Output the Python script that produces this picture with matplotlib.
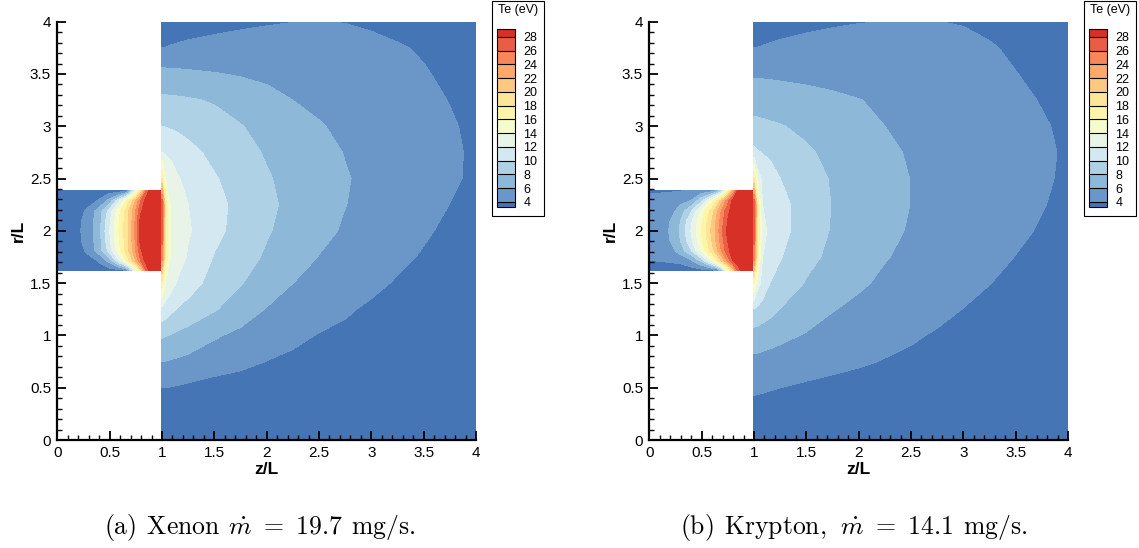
import numpy as np
import matplotlib
matplotlib.use("Agg")
import matplotlib.pyplot as plt
from matplotlib.ticker import MultipleLocator, FormatStrFormatter
from matplotlib.patches import Rectangle

plt.rcParams['font.family'] = ['Liberation Sans', 'DejaVu Sans']
plt.rcParams['mathtext.fontset'] = 'cm'

# contour levels of Te (eV) and the flood colours (below 4 ... above 28)
te_levels = [4, 6, 8, 10, 12, 14, 16, 18, 20, 22, 24, 26, 28]
band_colors = ['#4575b4', '#6a97c8', '#8db8d8', '#afd1e6', '#d3e8f1', '#e8f4e8',
               '#f6fbcc', '#fff5a6', '#fee597', '#fdc881', '#fca96b', '#f7865a',
               '#e85d43', '#d73027']

# channel grid (z/L, r/L)
ch_z = [0, 0.1, 0.2, 0.3, 0.4, 0.5, 0.6, 0.65, 0.7, 0.75, 0.8, 0.85, 0.9, 1.0]
ch_r = [1.62, 1.715, 1.81, 1.905, 2.0, 2.095, 2.19, 2.285, 2.38]

# plume grid (z/L, r/L)
pl_z = [1.0, 1.03, 1.08, 1.15, 1.25, 1.5, 1.75, 2.0, 2.25, 2.5, 2.75, 3.0, 3.25, 3.5, 3.75, 4.0]
pl_r = [0, 0.25, 0.5, 0.75, 1.0, 1.25, 1.5, 1.75, 2.0, 2.25, 2.5, 2.75, 3.0, 3.25, 3.5, 3.75, 4.0]

# Xenon, Te in the channel (rows = ch_r)
xe_channel_te = [
    [3.0, 3.0, 3.0, 3.0, 3.0, 3.0, 3.0, 3.2, 7.5, 13.0, 19.0, 26.0, 30.0, 30.5],
    [3.0, 3.0, 3.1, 3.0, 4.22, 6.73, 12.0, 15.33, 18.67, 22.0, 26.0, 29.0, 30.0, 30.5],
    [3.0, 3.1, 3.0, 4.6, 6.86, 10.75, 15.75, 18.25, 20.86, 24.0, 27.6, 29.5, 30.0, 30.5],
    [3.0, 3.2, 3.5, 5.0, 7.0, 11.6, 16.26, 18.44, 20.95, 24.36, 29.0, 29.7, 30.0, 30.5],
    [3.0, 3.3, 3.7, 4.8, 7.5, 11.85, 16.45, 18.6, 21.15, 24.7, 29.2, 29.8, 30.0, 30.5],
    [3.0, 3.2, 3.5, 5.0, 7.0, 11.6, 16.26, 18.44, 20.95, 24.36, 29.0, 29.7, 30.0, 30.5],
    [3.0, 3.1, 3.0, 4.6, 6.86, 10.75, 15.75, 18.25, 20.86, 24.0, 27.6, 29.5, 30.0, 30.5],
    [3.0, 3.0, 3.1, 3.0, 4.22, 6.73, 12.0, 15.33, 18.67, 22.0, 26.0, 29.0, 30.0, 30.5],
    [3.0, 3.0, 3.0, 3.0, 3.0, 3.0, 3.0, 3.2, 7.5, 13.0, 19.0, 26.0, 30.0, 30.5],
]

# Xenon, Te in the plume (rows = pl_r)
xe_plume_te = [
    [3.3, 3.3, 3.3, 3.3, 3.3, 3.25, 3.2, 3.15, 3.1, 3.1, 3.05, 3.0, 3.0, 2.95, 2.9, 2.85],
    [3.6, 3.6, 3.58, 3.55, 3.5, 3.4, 3.3, 3.2, 3.15, 3.1, 3.05, 3.0, 3.0, 2.95, 2.9, 2.85],
    [4.0, 3.98, 3.92, 3.82, 3.63, 3.23, 3.1, 3.05, 3.0, 3.0, 3.0, 3.0, 2.95, 2.9, 2.9, 2.85],
    [6.0, 5.94, 5.84, 5.69, 5.49, 4.98, 4.47, 3.96, 3.6, 3.45, 3.4, 3.35, 3.3, 3.25, 3.2, 3.1],
    [8.24, 8.1, 7.88, 7.6, 7.2, 6.2, 5.56, 5.0, 4.44, 3.9, 3.7, 3.55, 3.45, 3.35, 3.25, 3.15],
    [11.43, 11.07, 10.48, 9.85, 9.37, 8.15, 6.95, 5.89, 5.32, 4.75, 4.18, 3.75, 3.55, 3.4, 3.3, 3.2],
    [17.0, 14.0, 12.89, 11.73, 10.82, 9.26, 8.09, 7.04, 6.0, 5.45, 4.9, 4.35, 3.85, 3.6, 3.45, 3.3],
    [25.0, 17.5, 13.75, 12.88, 11.76, 9.87, 8.78, 7.74, 6.81, 5.94, 5.4, 4.87, 4.34, 3.85, 3.6, 3.4],
    [27.0, 18.0, 14.0, 13.26, 12.2, 10.52, 9.26, 8.17, 7.31, 6.49, 5.79, 5.26, 4.72, 4.19, 3.7, 3.45],
    [28.0, 18.0, 13.79, 13.05, 12.0, 10.61, 9.42, 8.38, 7.52, 6.78, 6.03, 5.51, 5.0, 4.49, 3.98, 3.6],
    [18.0, 13.86, 13.14, 12.14, 11.51, 10.16, 9.14, 8.16, 7.44, 6.77, 6.11, 5.6, 5.12, 4.65, 4.17, 3.8],
    [12.0, 11.83, 11.54, 11.14, 10.57, 9.48, 8.62, 7.82, 7.18, 6.54, 5.93, 5.5, 5.07, 4.64, 4.21, 3.8],
    [10.0, 9.92, 9.79, 9.62, 9.36, 8.72, 8.08, 7.42, 6.76, 6.11, 5.67, 5.29, 4.9, 4.51, 4.12, 3.75],
    [8.39, 8.36, 8.32, 8.26, 8.17, 7.83, 7.21, 6.59, 5.99, 5.65, 5.31, 4.97, 4.64, 4.3, 3.96, 3.7],
    [6.6, 6.57, 6.52, 6.45, 6.35, 6.09, 5.84, 5.59, 5.33, 5.08, 4.83, 4.58, 4.32, 4.07, 3.82, 3.6],
    [3.98, 4.0, 4.05, 4.1, 4.17, 4.3, 4.42, 4.5, 4.52, 4.48, 4.38, 4.25, 4.08, 3.9, 3.7, 3.55],
    [3.5, 3.5, 3.52, 3.55, 3.6, 3.7, 3.8, 3.9, 3.98, 4.02, 3.97, 3.85, 3.7, 3.55, 3.4, 3.3],
]

# Krypton, Te in the channel (rows = ch_r)
kr_channel_te = [
    [3.0, 3.0, 3.0, 3.0, 3.0, 3.0, 3.0, 3.5, 8.0, 14.0, 20.0, 26.5, 30.0, 30.5],
    [3.95, 4.05, 4.2, 4.4, 5.6, 8.5, 14.0, 17.3, 20.7, 24.4, 28.0, 29.4, 30.0, 30.5],
    [4.8, 5.0, 5.1, 6.9, 9.7, 14.4, 19.0, 21.7, 24.6, 27.4, 29.0, 29.8, 30.0, 30.5],
    [5.0, 5.2, 6.0, 8.0, 11.5, 15.6, 20.0, 22.6, 25.4, 28.0, 29.3, 30.0, 30.0, 30.5],
    [5.0, 5.3, 6.1, 8.3, 12.0, 16.0, 20.5, 23.0, 26.0, 28.5, 29.5, 30.0, 30.0, 30.5],
    [5.0, 5.2, 6.0, 8.0, 11.5, 15.6, 20.0, 22.6, 25.4, 28.0, 29.3, 30.0, 30.0, 30.5],
    [4.8, 5.0, 5.1, 6.9, 9.7, 14.4, 19.0, 21.7, 24.6, 27.4, 29.0, 29.8, 30.0, 30.5],
    [4.5, 4.7, 5.0, 5.4, 6.1, 9.6, 15.0, 18.3, 21.7, 25.2, 28.6, 29.6, 30.0, 30.5],
    [3.8, 3.8, 3.85, 3.95, 4.3, 4.7, 5.2, 6.8, 10.5, 16.0, 22.5, 29.0, 30.0, 30.5],
]

# Krypton, Te in the plume (rows = pl_r)
kr_plume_te = [
    [3.3, 3.3, 3.3, 3.3, 3.3, 3.25, 3.2, 3.15, 3.1, 3.1, 3.05, 3.0, 3.0, 2.95, 2.9, 2.85],
    [3.6, 3.6, 3.58, 3.55, 3.5, 3.4, 3.3, 3.2, 3.15, 3.1, 3.05, 3.0, 3.0, 2.95, 2.9, 2.85],
    [4.16, 4.14, 4.11, 4.06, 4.0, 3.7, 3.45, 3.3, 3.2, 3.15, 3.1, 3.05, 3.0, 3.0, 2.95, 2.9],
    [5.51, 5.47, 5.41, 5.32, 5.19, 4.86, 4.54, 4.22, 3.9, 3.7, 3.55, 3.45, 3.4, 3.3, 3.2, 3.1],
    [7.14, 7.05, 6.91, 6.71, 6.43, 5.83, 5.42, 5.01, 4.6, 4.18, 3.85, 3.65, 3.5, 3.4, 3.3, 3.2],
    [9.86, 9.62, 9.21, 8.65, 7.93, 7.0, 6.07, 5.62, 5.21, 4.79, 4.38, 3.97, 3.7, 3.5, 3.4, 3.3],
    [16.0, 13.0, 11.27, 10.0, 9.33, 7.84, 7.03, 6.23, 5.7, 5.28, 4.86, 4.44, 4.02, 3.7, 3.5, 3.35],
    [25.0, 17.5, 12.0, 11.22, 10.11, 8.55, 7.54, 6.81, 6.09, 5.63, 5.22, 4.8, 4.38, 3.97, 3.7, 3.45],
    [27.0, 18.0, 12.7, 11.48, 10.61, 9.03, 7.83, 7.13, 6.42, 5.84, 5.45, 5.06, 4.66, 4.27, 3.87, 3.55],
    [28.0, 18.0, 12.0, 11.42, 10.58, 9.1, 7.92, 7.26, 6.61, 5.97, 5.59, 5.21, 4.82, 4.44, 4.06, 3.7],
    [18.0, 13.0, 11.62, 10.95, 10.0, 8.84, 7.82, 7.19, 6.56, 5.96, 5.6, 5.24, 4.89, 4.53, 4.17, 3.8],
    [10.46, 10.18, 9.88, 9.61, 9.22, 8.24, 7.54, 6.93, 6.32, 5.84, 5.51, 5.18, 4.86, 4.53, 4.2, 3.85],
    [8.53, 8.48, 8.39, 8.27, 8.1, 7.6, 7.06, 6.53, 6.0, 5.68, 5.37, 5.05, 4.73, 4.42, 4.1, 3.8],
    [7.13, 7.11, 7.04, 6.97, 6.86, 6.59, 6.32, 6.04, 5.75, 5.45, 5.14, 4.84, 4.54, 4.24, 3.94, 3.7],
    [5.78, 5.77, 5.75, 5.72, 5.67, 5.55, 5.4, 5.22, 5.02, 4.82, 4.6, 4.4, 4.2, 4.02, 3.8, 3.6],
    [3.98, 4.0, 4.04, 4.1, 4.18, 4.35, 4.48, 4.56, 4.6, 4.56, 4.45, 4.3, 4.08, 3.85, 3.65, 3.5],
    [3.5, 3.5, 3.52, 3.55, 3.6, 3.72, 3.85, 3.95, 4.01, 4.02, 4.01, 3.93, 3.78, 3.6, 3.45, 3.3],
]

captions = [r'$\mathrm{(a)\;\,Xenon}\;\,\dot{m}\ =\ \mathrm{19.7\;\,mg/s.}$',
            r'$\mathrm{(b)\;\,Krypton,}\;\,\dot{m}\ =\ \mathrm{14.1\;\,mg/s.}$']

W, H = 1139, 548
fig = plt.figure(figsize=(W / 100, H / 100), dpi=100)


def flood(ax, z, r, te):
    cs = ax.contourf(z, r, np.array(te), levels=te_levels, colors=band_colors,
                     extend='both', zorder=1)
    cs.set_edgecolor('face')
    cs.set_linewidth(0.3)
    return cs


panels = [(xe_channel_te, xe_plume_te), (kr_channel_te, kr_plume_te)]
for i, (ch_te, pl_te) in enumerate(panels):
    dx = i * 592
    ax = fig.add_axes([(57.3 + dx) / W, 1 - 440 / H, 418.7 / W, 418.3 / H])
    flood(ax, ch_z, ch_r, ch_te)
    cs = flood(ax, pl_z, pl_r, pl_te)

    ax.set_xlim(0, 4)
    ax.set_ylim(0, 4)
    for s in ['top', 'right']:
        ax.spines[s].set_visible(False)
    for s in ['left', 'bottom']:
        ax.spines[s].set_linewidth(1.6)
    ax.xaxis.set_major_locator(MultipleLocator(0.5))
    ax.xaxis.set_minor_locator(MultipleLocator(0.1))
    ax.yaxis.set_major_locator(MultipleLocator(0.5))
    ax.yaxis.set_minor_locator(MultipleLocator(0.1))
    ax.xaxis.set_major_formatter(FormatStrFormatter('%g'))
    ax.yaxis.set_major_formatter(FormatStrFormatter('%g'))
    ax.tick_params(which='both', direction='in', top=False, right=False)
    ax.tick_params(which='major', length=6.5, width=1.3, labelsize=11, pad=4.5)
    ax.tick_params(which='minor', length=3.5, width=1.0)
    ax.set_xlabel('z/L', fontsize=12.5, fontweight='bold', labelpad=1)
    ax.set_ylabel('r/L', fontsize=12.5, fontweight='bold', labelpad=3)

    # legend box with colour bar
    fig.add_artist(Rectangle(((491.7 + dx) / W, 1 - 216 / H), 52.3 / W, 215 / H,
                             transform=fig.transFigure, fill=False, lw=0.8, ec='black'))
    fig.text((518 + dx) / W, 1 - 10 / H, 'Te (eV)', fontsize=9, ha='center', va='center')
    cax = fig.add_axes([(496.7 + dx) / W, 1 - 207.3 / H, 18.3 / W, 178 / H])
    cb = fig.colorbar(cs, cax=cax, ticks=te_levels, extend='both', extendrect=True,
                      extendfrac=(0.033, 0.046), drawedges=True)
    cb.outline.set_linewidth(0.8)
    cb.dividers.set_linewidth(0.8)
    cb.ax.tick_params(length=0, labelsize=9, pad=6)

    fig.text((260 + dx * 1.002) / W, 1 - 534 / H, captions[i], fontsize=18.5,
             ha='center', va='baseline')

fig.savefig('out.png', dpi=100)
